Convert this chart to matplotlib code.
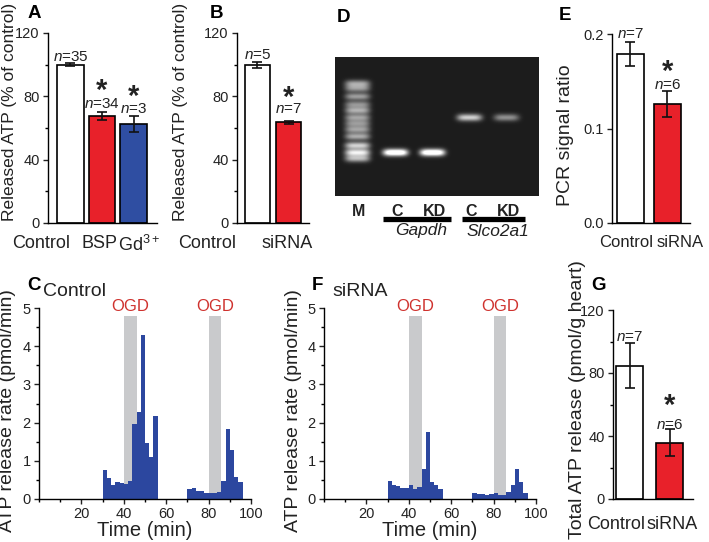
import numpy as np
import matplotlib
matplotlib.use('Agg')
import matplotlib.pyplot as plt
from matplotlib.ticker import MultipleLocator

W, H = 709, 542

plt.rcParams['font.family'] = ['Liberation Sans', 'DejaVu Sans']
plt.rcParams['mathtext.fontset'] = 'custom'
plt.rcParams['mathtext.rm'] = 'Liberation Sans'
plt.rcParams['mathtext.it'] = 'Liberation Sans:italic'
plt.rcParams['mathtext.bf'] = 'Liberation Sans:bold'
plt.rcParams['axes.linewidth'] = 1.0

RED = '#e8212a'
BLUE = '#2f4ea2'
HIST = '#2c479f'
GREY = '#c9cacc'
OGD_RED = '#cf322e'
TXT = '#222222'

# ---- data ----
a_labels = ['Control', 'BSP', 'Gd$^{3+}$']
a_mean = [100, 67.5, 62.5]
a_err = [1, 2.6, 4.9]
a_n = ['35', '34', '3']

b_labels = ['Control', 'siRNA']
b_mean = [100, 63.5]
b_err = [2, 1]
b_n = ['5', '7']

e_labels = ['Control', 'siRNA']
e_mean = [0.179, 0.126]
e_err = [0.0125, 0.0135]
e_n = ['7', '6']

g_labels = ['Control', 'siRNA']
g_mean = [84.5, 35.7]
g_err = [14.3, 8.7]
g_n = ['7', '6']

# histogram bins (start time, min) and release rate (pmol/min)
time_start = [30, 32, 34, 36, 38, 40, 42, 44, 46, 48, 50, 52, 54,
              70, 72, 74, 76, 78, 80, 82, 84, 86, 88, 90, 92, 94]
rate_control = [0.75, 0.54, 0.36, 0.44, 0.42, 0.40, 0.47, 1.96, 2.27, 4.30, 1.46, 1.11, 2.18,
                0.25, 0.30, 0.22, 0.21, 0.17, 0.17, 0.17, 0.19, 0.48, 1.83, 1.28, 0.58, 0.45]
rate_sirna = [0.47, 0.37, 0.34, 0.29, 0.28, 0.36, 0.26, 0.31, 0.79, 1.76, 0.45, 0.36, 0.26,
              0.17, 0.14, 0.13, 0.10, 0.12, 0.15, 0.11, 0.10, 0.19, 0.36, 0.79, 0.45, 0.17]
ogd_start = [40, 80]
ogd_len = 6

# gel (coordinates in gel pixels): lanes, band rows and intensities
gel_lanes = ['M', 'C', 'KD', 'C', 'KD']
gel_lane_x = [22, 60, 97, 134, 171]
gel_bands = [
    [(26, 0.5), (31, 0.45), (39, 0.5), (47, 0.45), (53, 0.55), (60, 0.5), (66, 0.45),
     (72, 0.5), (79, 0.55), (88, 0.7), (95, 0.8), (101, 0.6)],
    [(95, 1.1)],
    [(95, 1.1)],
    [(60, 0.7)],
    [(60, 0.45)],
]
gene_names = ['Gapdh', 'Slco2a1']
gene_span = [(48, 116), (127, 190)]


def add_ax(fig, left, top, right, bottom):
    return fig.add_axes([left / W, 1 - bottom / H, (right - left) / W, (bottom - top) / H])


def style(ax):
    ax.spines[['top', 'right']].set_visible(False)
    ax.tick_params(colors=TXT, labelsize=10.5, length=3.5, width=1, direction='out', pad=2.5)
    ax.tick_params(which='minor', length=2, width=1)


def bar_panel(ax, labels, means, errs, colors, width, xlim, ylim, yticks, ydx,
              label_dx, label_size, label_pad):
    x = np.arange(len(means))
    ax.bar(x, means, width, color=colors, edgecolor='black', linewidth=1.2,
           yerr=errs, capsize=3.5,
           error_kw=dict(elinewidth=1.2, capthick=1.2, ecolor='#111111'), zorder=2)
    ax.set_xlim(*xlim)
    ax.set_ylim(*ylim)
    ax.set_yticks(yticks)
    if ydx:
        ax.yaxis.set_minor_locator(MultipleLocator(ydx))
    ax.set_xticks([])
    style(ax)
    for i, lab in enumerate(labels):
        ax.annotate(lab, xy=(i, 0), xycoords=('data', 'axes fraction'),
                    xytext=(label_dx[i], -label_pad), textcoords='offset points',
                    ha='center', va='top', fontsize=label_size, color=TXT)
    return x


def n_label(ax, x, y, n, size=11):
    ax.text(x, y, '$n$=' + n, ha='center', va='center', fontsize=size, color=TXT)


def star(ax, x, y, size=21):
    # mathtext keeps the box tight round the asterisk glyph
    ax.text(x, y, r'$\mathbf{*}$', ha='center', va='center', fontsize=size, color=TXT)


fig = plt.figure(figsize=(W / 100, H / 100), dpi=100)

# ---- A ----
axA = add_ax(fig, 48, 33, 157, 223)
bar_panel(axA, a_labels, a_mean, a_err, ['white', RED, BLUE], 0.84, (-0.71, 2.74), (0, 120),
          [0, 40, 80, 120], 20, [-21, -2, 4], 13, 8.5)
n_label(axA, 0, 105, a_n[0])
n_label(axA, 1, 75, a_n[1])
n_label(axA, 2, 72, a_n[2])
star(axA, 1, 84)
star(axA, 2, 80)
fig.text(10 / W, 1 - 112 / H, 'Released ATP (% of control)', rotation=90,
         ha='center', va='center', fontsize=12.5, color=TXT)

# ---- B ----
axB = add_ax(fig, 237, 33, 309, 223)
bar_panel(axB, b_labels, b_mean, b_err, ['white', RED], 0.82, (-0.66, 1.66), (0, 120),
          [0, 40, 80, 120], 20, [-36, -1], 13, 8.5)
n_label(axB, 0, 106, b_n[0])
n_label(axB, 1, 72, b_n[1])
star(axB, 1, 79.5)
fig.text(181 / W, 1 - 112 / H, 'Released ATP (% of control)', rotation=90,
         ha='center', va='center', fontsize=12.5, color=TXT)

# ---- E ----
axE = add_ax(fig, 612, 34, 690, 223)
bar_panel(axE, e_labels, e_mean, e_err, ['white', RED], 0.74, (-0.5, 1.62), (0, 0.2),
          [0.0, 0.1, 0.2], None, [-3, 9], 12, 8.5)
axE.set_yticklabels(['0.0', '0.1', '0.2'])
n_label(axE, 0, 0.2, e_n[0])
n_label(axE, 1, 0.146, e_n[1])
star(axE, 1, 0.1605)
fig.text(566 / W, 1 - 135 / H, 'PCR signal ratio', rotation=90,
         ha='center', va='center', fontsize=14, color=TXT)

# ---- G ----
axG = add_ax(fig, 613, 310, 693, 499)
bar_panel(axG, g_labels, g_mean, g_err, ['white', RED], 0.67, (-0.42, 1.58), (0, 120),
          [0, 40, 80, 120], 20, [-10, 2], 13, 12)
n_label(axG, 0, 103, g_n[0])
n_label(axG, 1, 47, g_n[1])
star(axG, 1, 59.5)
fig.text(577 / W, 1 - 400 / H, 'Total ATP release (pmol/g heart)', rotation=90,
         ha='center', va='center', fontsize=14, color=TXT)


# ---- C / F ----
def hist_panel(ax, rates, title, title_x):
    for s in ogd_start:
        ax.axvspan(s, s + ogd_len, ymin=0, ymax=4.8 / 5, color=GREY, lw=0, zorder=1)
        ax.text(s + ogd_len / 2, 5.03, 'OGD', ha='center', va='center', fontsize=12,
                color=OGD_RED)
    ax.bar(time_start, rates, 2, align='edge', color=HIST, lw=0, zorder=2)
    ax.set_xlim(0, 100)
    ax.set_ylim(0, 5)
    ax.set_xticks([20, 40, 60, 80, 100])
    ax.xaxis.set_minor_locator(MultipleLocator(10))
    ax.set_yticks([0, 1, 2, 3, 4, 5])
    ax.yaxis.set_minor_locator(MultipleLocator(0.5))
    style(ax)
    ax.tick_params(axis='x', pad=2)
    ax.set_xlabel('Time (min)', fontsize=14.5, color=TXT, labelpad=0)
    ax.text(title_x, 1.04, title, transform=ax.transAxes, ha='left', va='bottom',
            fontsize=14, color=TXT)


axC = add_ax(fig, 39, 308, 251, 499)
hist_panel(axC, rate_control, 'Control', 0.02)
fig.text(8 / W, 1 - 411 / H, 'ATP release rate (pmol/min)', rotation=90,
         ha='center', va='center', fontsize=14, color=TXT)

axF = add_ax(fig, 324, 308, 536, 499)
hist_panel(axF, rate_sirna, 'siRNA', 0.04)
fig.text(293 / W, 1 - 411 / H, 'ATP release rate (pmol/min)', rotation=90,
         ha='center', va='center', fontsize=14, color=TXT)

# ---- D: gel ----
gw, gh = 204, 139
axD = add_ax(fig, 335, 57, 335 + gw, 57 + gh)
yy, xx = np.mgrid[0:gh, 0:gw]
img = np.full((gh, gw), 0.11)
for lx, bands in zip(gel_lane_x, gel_bands):
    for by, inten in bands:
        prof_x = np.exp(-((xx - lx) / 12.5) ** 4)
        prof_y = np.exp(-((yy - by) / 3.6) ** 2)
        img += inten * prof_x * prof_y
img = np.clip(img, 0, 1)
axD.imshow(img, cmap='gray', vmin=0, vmax=1, extent=(0, gw, gh, 0), aspect='auto',
           interpolation='bilinear')
axD.set_xlim(0, gw)
axD.set_ylim(gh, 0)
axD.set_xticks([])
axD.set_yticks([])
for sp in axD.spines.values():
    sp.set_visible(False)

for lx, name in zip(gel_lane_x, gel_lanes):
    axD.annotate(name, xy=(lx + 2, gh), xycoords='data', xytext=(0, -6),
                 textcoords='offset points', ha='center', va='top', fontsize=11.5,
                 fontweight='bold', color=TXT, annotation_clip=False)
for (x0, x1), gene in zip(gene_span, gene_names):
    axD.plot([x0, x1], [gh + 23, gh + 23], color='black', lw=3.8, clip_on=False,
             solid_capstyle='butt')
    axD.text((x0 + x1) / 2 + 4, gh + 35, gene, ha='center', va='center', fontsize=12.5,
             fontstyle='italic', color=TXT)

# panel letters
for letter, px, py in [('A', 34, 14), ('B', 216, 14), ('D', 344, 17), ('E', 565, 16),
                       ('C', 34, 286), ('F', 317, 286), ('G', 599, 286)]:
    fig.text(px / W, 1 - py / H, letter, ha='center', va='center', fontsize=13.5,
             fontweight='bold', color='black')

fig.savefig('out.png', dpi=100)
